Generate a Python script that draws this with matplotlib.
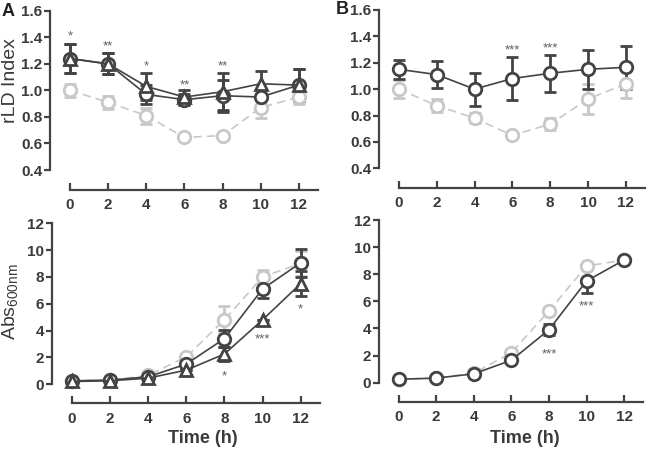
import numpy as np
import matplotlib.pyplot as plt

plt.rcParams['font.family'] = ['Liberation Sans', 'DejaVu Sans']

t = [0, 2, 4, 6, 8, 10, 12]

# panel A, rLD index
rld_a_ctrl = [1.00, 0.91, 0.81, 0.645, 0.66, 0.87, 0.95]
rld_a_ctrl_err = [0.05, 0.05, 0.06, 0.0, 0.0, 0.08, 0.05]
rld_a_circ = [1.24, 1.20, 0.97, 0.93, 0.96, 0.95, 1.04]
rld_a_circ_err = [0.11, 0.08, 0.07, 0.04, 0.12, 0.0, 0.12]
rld_a_tri = [1.24, 1.20, 1.03, 0.95, 0.99, 1.05, 1.04]
rld_a_tri_err = [0.11, 0.08, 0.10, 0.05, 0.14, 0.10, 0.12]

# panel B, rLD index
rld_b_ctrl = [1.00, 0.875, 0.78, 0.65, 0.735, 0.925, 1.04]
rld_b_ctrl_err = [0.07, 0.05, 0.04, 0.0, 0.045, 0.11, 0.11]
rld_b_circ = [1.15, 1.11, 1.00, 1.08, 1.12, 1.15, 1.165]
rld_b_circ_err = [0.07, 0.10, 0.125, 0.16, 0.14, 0.15, 0.165]

# panel A, Abs600
abs_a_ctrl = [0.25, 0.30, 0.65, 2.05, 4.8, 8.0, 9.0]
abs_a_ctrl_err = [0.0, 0.0, 0.0, 0.0, 1.0, 0.5, 0.9]
abs_a_circ = [0.25, 0.30, 0.55, 1.5, 3.4, 7.1, 9.05]
abs_a_circ_err = [0.0, 0.0, 0.0, 0.0, 0.65, 0.7, 1.05]
abs_a_tri = [0.20, 0.25, 0.45, 1.05, 2.25, 4.8, 7.5]
abs_a_tri_err = [0.0, 0.0, 0.0, 0.0, 0.5, 0.0, 0.9]

# panel B, Abs600
abs_b_ctrl = [0.25, 0.33, 0.70, 2.2, 5.3, 8.6, 9.05]
abs_b_circ = [0.25, 0.33, 0.65, 1.65, 3.9, 7.5, 9.05]
abs_b_circ_err = [0.0, 0.0, 0.0, 0.0, 0.4, 0.9, 0.0]

# significance marks (x, y, text)
sig_rld_a = [(0, 1.41, '*'), (2, 1.33, '**'), (4, 1.18, '*'), (6, 1.04, '**'), (8, 1.18, '**')]
sig_rld_b = [(6, 1.29, '***'), (8, 1.31, '***')]
sig_abs_a = [(8, 0.6, '*'), (10, 3.3, '***'), (12, 5.6, '*')]
sig_abs_b = [(8, 2.1, '***'), (10, 5.6, '***')]

dark = '#434343'
light = '#c8c8c8'
txt = '#3a3a3a'
ms = 9
mew = 2
elw = 2

fig = plt.figure(figsize=(6.5, 4.5), dpi=100)
ax1 = fig.add_axes([0.077, 0.578, 0.412, 0.398])
ax2 = fig.add_axes([0.583, 0.582, 0.409, 0.396])
ax3 = fig.add_axes([0.080, 0.104, 0.412, 0.400])
ax4 = fig.add_axes([0.583, 0.107, 0.406, 0.404])


def series(ax, y, err, color, marker, ls, lw):
    if err is None:
        err = [0]*len(y)
    ax.errorbar(t, y, yerr=err, color=color, ls=ls, lw=lw, marker=marker, ms=ms,
                mfc='white', mec=color, mew=mew, elinewidth=elw, capsize=4, capthick=elw,
                dashes=(5, 3) if ls == '--' else (None, None), clip_on=False)


def style(ax, ylo, yhi, step, fmt):
    ax.set_xlim(-1.05, 13)
    ax.spines['top'].set_visible(False)
    ax.spines['right'].set_visible(False)
    for s in ['left', 'bottom']:
        ax.spines[s].set_color(dark)
        ax.spines[s].set_linewidth(1.6)
    ax.spines['bottom'].set_bounds(0, 13)
    ax.spines['left'].set_bounds(ylo, yhi)
    ax.set_xticks(t)
    yt = np.arange(ylo, yhi + step/2, step)
    ax.set_yticks(yt)
    ax.set_yticklabels([fmt % v for v in yt])
    ax.tick_params(axis='x', direction='in', length=5, width=1.6, color=dark, pad=6)
    ax.tick_params(axis='y', direction='out', length=4, width=1.6, color=dark, pad=1.5)
    for lab in ax.get_xticklabels() + ax.get_yticklabels():
        lab.set_fontsize(11)
        lab.set_fontweight('bold')
        lab.set_color(txt)


def marks(ax, sig):
    for x, y, s in sig:
        ax.text(x, y, s, ha='center', va='center', fontsize=9.5, color='#606060')


# A top
series(ax1, rld_a_ctrl, rld_a_ctrl_err, light, 'o', '--', 1.2)
series(ax1, rld_a_circ, rld_a_circ_err, dark, 'o', '-', 1.2)
series(ax1, rld_a_tri, rld_a_tri_err, dark, '^', '-', 1.2)
ax1.set_ylim(0.25, 1.6)
style(ax1, 0.4, 1.6, 0.2, '%.1f')
marks(ax1, sig_rld_a)

# B top
series(ax2, rld_b_ctrl, rld_b_ctrl_err, light, 'o', '--', 1.2)
series(ax2, rld_b_circ, rld_b_circ_err, dark, 'o', '-', 1.2)
ax2.set_ylim(0.25, 1.6)
style(ax2, 0.4, 1.6, 0.2, '%.1f')
marks(ax2, sig_rld_b)

# A bottom
series(ax3, abs_a_ctrl, abs_a_ctrl_err, light, 'o', '--', 1.2)
series(ax3, abs_a_circ, abs_a_circ_err, dark, 'o', '-', 1.2)
series(ax3, abs_a_tri, abs_a_tri_err, dark, '^', '-', 1.2)
ax3.set_ylim(-1.42, 12)
style(ax3, 0, 12, 2, '%d')
marks(ax3, sig_abs_a)

# B bottom
series(ax4, abs_b_ctrl, None, light, 'o', '--', 1.2)
series(ax4, abs_b_circ, abs_b_circ_err, dark, 'o', '-', 1.2)
ax4.set_ylim(-1.42, 12)
style(ax4, 0, 12, 2, '%d')
marks(ax4, sig_abs_b)

fig.text(0.016, 0.82, 'rLD Index', fontsize=14, color=txt, rotation=90, ha='center', va='center')
fig.text(0.016, 0.33, 'Abs$_{\\mathregular{600nm}}$', fontsize=14, color=txt, rotation=90,
         ha='center', va='center')
fig.text(0.312, 0.025, 'Time (h)', fontsize=13, fontweight='bold', color=txt, ha='center', va='center')
fig.text(0.808, 0.025, 'Time (h)', fontsize=13, fontweight='bold', color=txt, ha='center', va='center')

fig.text(0.003, 0.975, 'A', fontsize=13, fontweight='bold', color='#222222', va='center')
fig.text(0.517, 0.978, 'B', fontsize=13, fontweight='bold', color='#222222', va='center')

fig.savefig('out.png', dpi=100)
